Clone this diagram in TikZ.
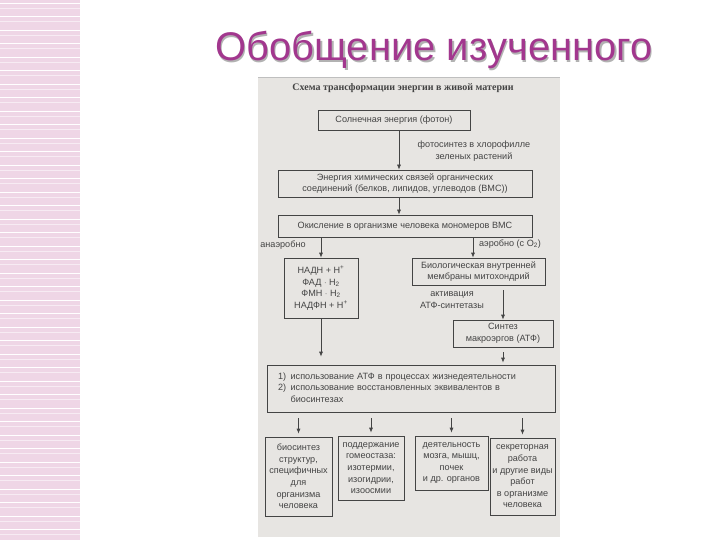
\documentclass[tikz,border=0pt]{standalone}
\usepackage{fontspec}
\setmainfont{Liberation Sans}
\newfontfamily\scanserif{Liberation Serif}
\usetikzlibrary{calc,positioning,arrows.meta}

\definecolor{stripepink}{HTML}{EFD6E6}
\definecolor{titlemag}{HTML}{A2378E}
\definecolor{scanbg}{HTML}{E7E5E2}
\definecolor{scanink}{HTML}{444444}

\newcommand\scantext{\fontsize{9.1}{11.6}\selectfont}

\begin{document}
\begin{tikzpicture}[x=1pt,y=-1pt,
  blk/.style={draw=scanink,line width=0.7pt,fill=scanbg,inner sep=1pt,
    align=center,text=scanink,font=\scantext},
  lbl/.style={text=scanink,font=\scantext,align=center,inner sep=1pt},
  arr/.style={draw=scanink,line width=0.7pt,-{Latex[length=5pt,width=4pt]}}]
 \useasboundingbox (0,0) rectangle (720,540);
 % left stripe
 \fill[stripepink] (0,0) rectangle (80,540);
 \foreach \yy in {0,13.5,...,540} {
   \draw[white,line width=0.9pt] (0,\yy+3) -- (80,\yy+3);
   \draw[white!50!stripepink,line width=0.6pt] (0,\yy+8) -- (80,\yy+8);
 }
 % heading
 \node[text=black!30,font=\fontsize{40}{42}\selectfont] at (435.5,51.5) {Обобщение изученного};
 \node (head) [text=titlemag,font=\fontsize{40}{42}\selectfont] at (434,50) {Обобщение изученного};
 % scanned sheet
 \fill[scanbg] (258,77) rectangle (560,537);
 \draw[black!25,line width=0.6pt] (258,77) -- (560,77);
 \node (cap) [lbl,font=\scanserif\bfseries\fontsize{10}{12}\selectfont] at (403,88)
   {Схема трансформации энергии в живой материи};
 %
 \node (sun) [blk,minimum width=152,minimum height=20] at (394,120)
   {Солнечная энергия (фотон)};
 \node (chem) [blk,minimum width=254,minimum height=27] at (405,183.5)
   {Энергия химических связей органических\\соединений (белков, липидов, углеводов (ВМС))};
 \node (ox) [blk,minimum width=254,minimum height=22] at (405,226)
   {Окисление в организме человека мономеров ВМС};
 \node (nad) [blk,minimum width=74,minimum height=60] at (321,288)
   {НАДН + H\textsuperscript{+}\\ФАД $\cdot$ H\textsubscript{2}\\ФМН $\cdot$ H\textsubscript{2}\\НАДФН + H\textsuperscript{+}};
 \node (mito) [blk,minimum width=133,minimum height=27] at (478.5,271.5)
   {Биологическая внутренней\\мембраны митохондрий};
 \node (atp) [blk,minimum width=100,minimum height=27] at (503,333.5)
   {Синтез\\макроэргов (АТФ)};
 \node (use) [blk,text width=266,inner xsep=11,minimum height=47,align=left] at (411,388.5)
   {1)\enspace использование АТФ в процессах жизнедеятельности\\
    2)\enspace использование восстановленных эквивалентов в\\
    \phantom{2)\enspace}биосинтезах};
 \node (bio) [blk,minimum width=67,minimum height=79] at (298.5,476.5)
   {биосинтез\\структур,\\специфичных\\для\\организма\\человека};
 \node (homeo) [blk,minimum width=66,minimum height=64] at (371,468)
   {поддержание\\гомеостаза:\\изотермии,\\изогидрии,\\изоосмии};
 \node (organ) [blk,minimum width=73,minimum height=54] at (451.5,463)
   {деятельность\\мозга, мышц,\\почек\\и др. органов};
 \node (secr) [blk,minimum width=65,minimum height=77] at (522.5,476.5)
   {секреторная\\работа\\и другие виды\\работ\\в организме\\человека};
 % labels beside arrows
 \node (photo) [lbl] at (474,151) {фотосинтез в хлорофилле\\зеленых растений};
 \node (anaer) [lbl] at (283,245) {анаэробно};
 \node (aer) [lbl] at (510,244) {аэробно (с O\textsubscript{2})};
 \node (act) [lbl] at (452,300) {активация\\АТФ-синтетазы};
 %
 \coordinate (xa) at (399,0);
 \coordinate (xb) at (473,0);
 \draw[arr] (sun.south -| xa) -- (chem.north -| xa);
 \draw[arr] (chem.south -| xa) -- (ox.north -| xa);
 \draw[arr] (ox.south -| nad) -- (nad.north);
 \draw[arr] (ox.south -| xb) -- (mito.north -| xb);
 \draw[arr,shorten <=5pt] (mito.south -| atp) -- (atp.north);
 \draw[arr,shorten >=8pt] (nad.south) -- (use.north -| nad);
 \draw[arr,shorten <=5pt,shorten >=2pt] (atp.south) -- (use.north -| atp);
 \foreach \b in {bio,homeo,organ,secr}
   \draw[arr,shorten <=6pt,shorten >=3pt] (use.south -| \b) -- (\b.north);
\end{tikzpicture}
\end{document}
